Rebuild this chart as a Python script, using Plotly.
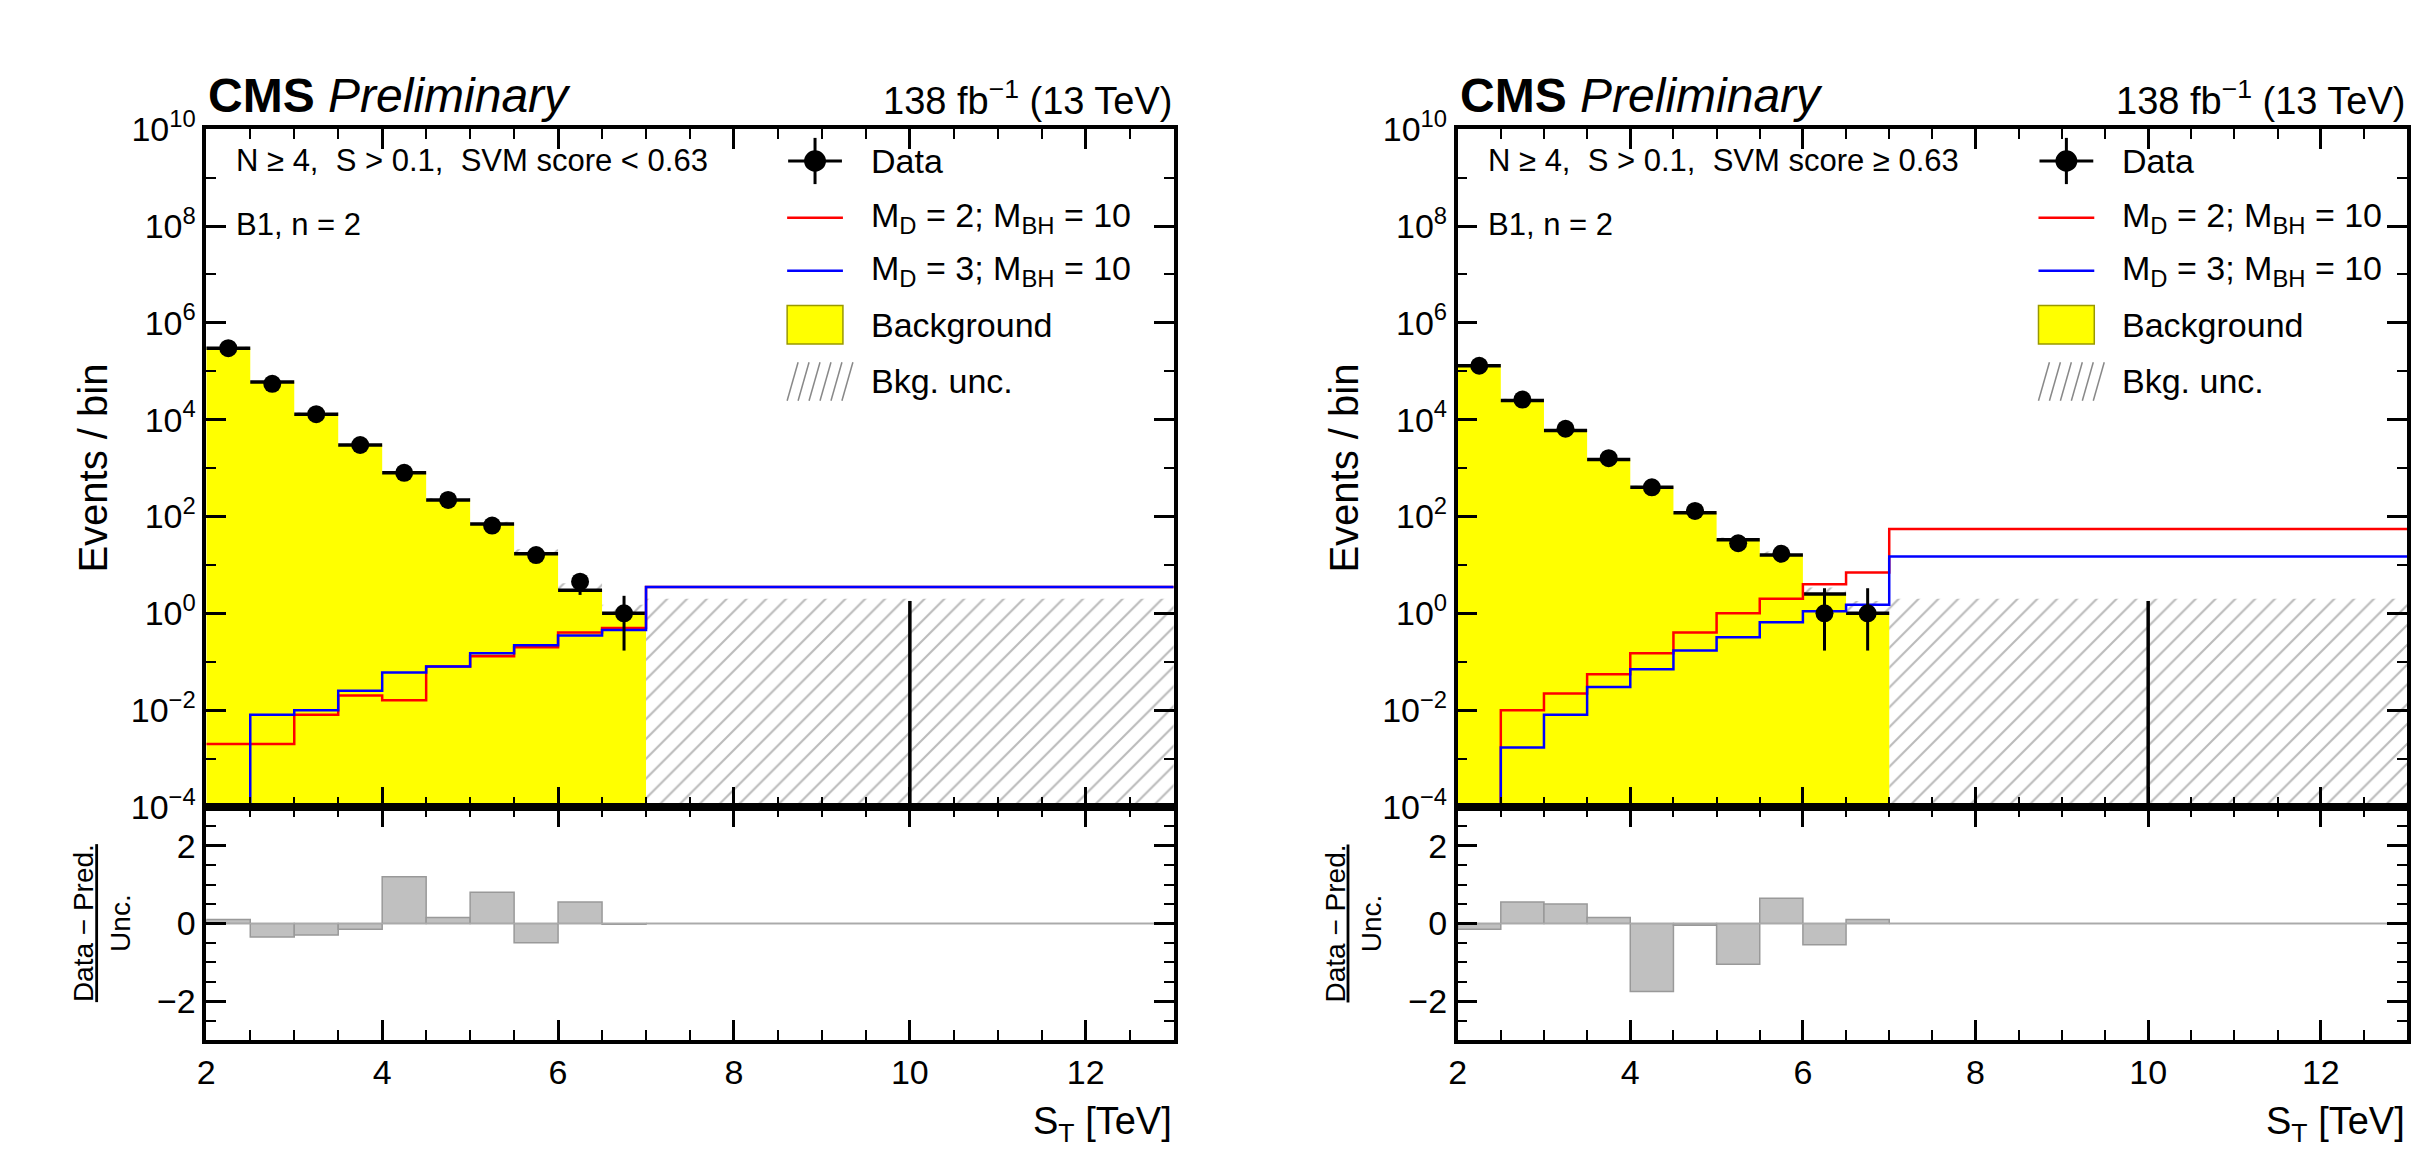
import plotly.graph_objects as go

W, H = 2430, 1152
edges = [2, 2.5, 3, 3.5, 4, 4.5, 5, 5.5, 6, 6.5, 7, 13]

# Left panel (SVM score < 0.63)
bkg_L = [3e5, 6e4, 1.3e4, 3e3, 8e2, 2.2e2, 70, 17, 3, 1.0, 0]
unc_lo_L = [2.8e5, 5.6e4, 1.2e4, 2.8e3, 7.4e2, 2.0e2, 62, 14, 2.0, 0.6, 1e-4]
unc_hi_L = [3.2e5, 6.4e4, 1.4e4, 3.2e3, 8.6e2, 2.4e2, 78, 21, 4.2, 1.5, 2.0]
data_L = [3e5, 5.5e4, 1.3e4, 3e3, 8e2, 2.2e2, 65, 16, 4.5, 1, 0]
data_errup_L = [550, 235, 115, 55, 28, 15, 8, 4, 2.1, 1.3, 1.8]
data_errdn_L = [550, 235, 115, 55, 28, 15, 8, 4, 2.1, 0.83, 0]
red_L = [2e-3, 2e-3, 8e-3, 2e-2, 1.6e-2, 0.08, 0.13, 0.2, 0.4, 0.5, 3.5]
blue_L = [1e-6, 8e-3, 1e-2, 2.5e-2, 0.06, 0.08, 0.15, 0.22, 0.35, 0.45, 3.5]
pull_L = [0.1, -0.35, -0.3, -0.15, 1.2, 0.15, 0.8, -0.5, 0.55, -0.02, 0]

# Right panel (SVM score >= 0.63)
bkg_R = [1.3e5, 2.5e4, 6e3, 1.5e3, 4e2, 1.2e2, 33, 16, 2.5, 1.0, 0]
unc_lo_R = [1.2e5, 2.3e4, 5.6e3, 1.4e3, 3.7e2, 1.1e2, 29, 13, 1.6, 0.3, 1e-4]
unc_hi_R = [1.4e5, 2.7e4, 6.4e3, 1.6e3, 4.3e2, 1.3e2, 37, 19, 3.4, 1.8, 2.0]
data_R = [1.3e5, 2.6e4, 6.5e3, 1.6e3, 4e2, 1.3e2, 28, 17, 1, 1, 0]
data_errup_R = [360, 160, 80, 40, 20, 11, 5.3, 4.1, 2.3, 2.3, 1.8]
data_errdn_R = [360, 160, 80, 40, 20, 11, 5.3, 4.1, 0.83, 0.83, 0]
red_R = [1e-6, 0.01, 0.022, 0.055, 0.15, 0.4, 1.0, 2.0, 4.0, 7.0, 55]
blue_R = [1e-6, 1.7e-3, 8e-3, 0.03, 0.07, 0.17, 0.32, 0.65, 1.1, 1.5, 15]
pull_R = [-0.15, 0.55, 0.5, 0.15, -1.75, -0.05, -1.05, 0.65, -0.55, 0.1, 0]

sel_L = "N ≥ 4,  S > 0.1,  SVM score < 0.63"
sel_R = "N ≥ 4,  S > 0.1,  SVM score ≥ 0.63"

FONT = "Liberation Sans, Arial, sans-serif"
fig = go.Figure()

def px(x): return x / W
def py(y): return 1 - y / H

panels = [
    dict(x0=190, x1=1161, bkg=bkg_L, lo=unc_lo_L, hi=unc_hi_L, data=data_L,
         eu=data_errup_L, ed=data_errdn_L, red=red_L, blue=blue_L, pull=pull_L, sel=sel_L),
    dict(x0=1446, x1=2399, bkg=bkg_R, lo=unc_lo_R, hi=unc_hi_R, data=data_R,
         eu=data_errup_R, ed=data_errdn_R, red=red_R, blue=blue_R, pull=pull_R, sel=sel_R),
]
main_top, main_bot, rat_bot = 101, 805, 1047

def step(vals):
    xs, ys = [], []
    for i, v in enumerate(vals):
        xs += [edges[i], edges[i + 1]]
        ys += [v, v]
    return xs, ys

ann, shapes = [], []
for k, p in enumerate(panels):
    n = "" if k == 0 else "3"
    r = "2" if k == 0 else "4"
    xa_main, ya_main, xa_rat, ya_rat = "x" + n, "y" + n, "x" + r, "y" + r
    centers = [(edges[i] + edges[i + 1]) / 2 for i in range(len(edges) - 1)]
    widths = [edges[i + 1] - edges[i] for i in range(len(edges) - 1)]
    nb = 10
    xs, ys = step(p["bkg"][:nb])
    fig.add_trace(go.Scatter(x=xs, y=ys, mode="lines", fill="tozeroy", fillcolor="#ffff00",
                             line=dict(width=0), xaxis=xa_main, yaxis=ya_main))
    fig.add_trace(go.Bar(x=centers, y=[h - l for h, l in zip(p["hi"], p["lo"])], base=p["lo"],
                         width=widths, marker=dict(color="rgba(0,0,0,0)", line=dict(width=0),
                         pattern=dict(shape="/", fgcolor="#777777", size=14, solidity=0.15)),
                         xaxis=xa_main, yaxis=ya_main))
    bx, by = [], []
    for i in range(nb):
        bx += [edges[i], edges[i + 1], None]
        by += [p["bkg"][i], p["bkg"][i], None]
    fig.add_trace(go.Scatter(x=bx, y=by, mode="lines", line=dict(color="black", width=3.5),
                             xaxis=xa_main, yaxis=ya_main))
    for vals, col in ((p["red"], "#ff0000"), (p["blue"], "#0000ff")):
        fig.add_trace(go.Scatter(x=edges, y=vals + [vals[-1]], mode="lines",
                                 line=dict(color=col, width=2.5, shape="hv"),
                                 xaxis=xa_main, yaxis=ya_main))
    dy = [d if d > 0 else 1e-4 for d in p["data"]]
    fig.add_trace(go.Scatter(x=centers[:nb], y=dy[:nb], mode="markers",
                             marker=dict(color="black", size=18),
                             error_y=dict(type="data", symmetric=False, array=p["eu"][:nb], arrayminus=p["ed"][:nb],
                                          color="black", thickness=3, width=0),
                             xaxis=xa_main, yaxis=ya_main))
    fig.add_trace(go.Scatter(x=[centers[nb]], y=[1e-4], mode="markers", marker=dict(size=0.1, color="black"),
                             error_y=dict(type="data", symmetric=False, array=[p["eu"][nb]], arrayminus=[0],
                                          color="black", thickness=3.5, width=0),
                             xaxis=xa_main, yaxis=ya_main))
    fig.add_trace(go.Bar(x=centers, y=p["pull"], width=widths,
                         marker=dict(color="#c0c0c0", line=dict(color="#999999", width=1.5)),
                         xaxis=xa_rat, yaxis=ya_rat))
    fig.add_trace(go.Scatter(x=[2, 13], y=[0, 0], mode="lines", line=dict(color="#aaaaaa", width=1.5),
                             xaxis=xa_rat, yaxis=ya_rat))

    dom = [px(p["x0"]), px(p["x1"])]
    common = dict(showline=True, linecolor="black", linewidth=3.5, mirror="ticks", ticks="inside",
                  ticklen=20, tickwidth=2.5, tickcolor="black", tickfont=dict(size=34, family=FONT, color="black"),
                  showgrid=False, zeroline=False)
    minor_x = dict(ticks="inside", ticklen=10, tickwidth=2, tickcolor="black", dtick=0.5)
    fig.update_layout(**{
        "xaxis" + n: dict(domain=dom, range=[2, 13], anchor="y" + n, tickvals=[2, 4, 6, 8, 10, 12],
                          showticklabels=False, minor=minor_x, **common),
        "yaxis" + n: dict(domain=[py(main_bot), py(main_top)], type="log", range=[-4, 10], anchor="x" + n,
                          tickvals=[10 ** e for e in range(-4, 11, 2)],
                          ticktext=["10<sup>%d</sup>" % e if e >= 0 else "10<sup>−%d</sup>" % -e for e in range(-4, 11, 2)],
                          minor=dict(ticks="inside", ticklen=10, tickwidth=2, tickcolor="black",
                                     tickvals=[10 ** e for e in range(-3, 10, 2)]),
                          title=dict(text="Events / bin", font=dict(size=40, family=FONT, color="black"), standoff=12),
                          **common),
        "xaxis" + r: dict(domain=dom, range=[2, 13], anchor="y" + r, tickvals=[2, 4, 6, 8, 10, 12],
                          minor=minor_x, **common),
        "yaxis" + r: dict(domain=[py(rat_bot), py(main_bot)], range=[-3, 3], anchor="x" + r,
                          tickvals=[-2, 0, 2], ticktext=["−2", "0", "2"],
                          minor=dict(ticks="inside", ticklen=10, tickwidth=2, tickcolor="black", dtick=0.5),
                          **common),
    })
    x0, x1 = p["x0"], p["x1"]
    ann += [
        dict(x=px(x0), y=py(96), xref="paper", yref="paper", xanchor="left", yanchor="bottom",
             text="<b>CMS</b> <i>Preliminary</i>", showarrow=False, font=dict(size=48, family=FONT, color="black")),
        dict(x=px(x1), y=py(96), xref="paper", yref="paper", xanchor="right", yanchor="bottom",
             text="138 fb<sup>−1</sup> (13 TeV)", showarrow=False, font=dict(size=38, family=FONT, color="black")),
        dict(x=px(x0 + 28), y=py(134), xref="paper", yref="paper", xanchor="left", yanchor="middle",
             text=p["sel"], showarrow=False, font=dict(size=31, family=FONT, color="black")),
        dict(x=px(x0 + 28), y=py(200), xref="paper", yref="paper", xanchor="left", yanchor="middle",
             text="B1, n = 2", showarrow=False, font=dict(size=31, family=FONT, color="black")),
        dict(x=px(x1), y=py(1134), xref="paper", yref="paper", xanchor="right", yanchor="middle",
             text="S<sub>T</sub> [TeV]", showarrow=False, font=dict(size=38, family=FONT, color="black")),
        dict(x=px(x0 - 105), y=py(926), xref="paper", yref="paper", xanchor="center", yanchor="middle",
             text="<u>Data − Pred.</u><br>Unc.", textangle=-90, showarrow=False,
             font=dict(size=28, family=FONT, color="black")),
    ]
    lx = x0 + 611
    tx = lx + 54
    rows = [134, 193, 248, 304, 363]
    labels = ["Data", "M<sub>D</sub> = 2; M<sub>BH</sub> = 10", "M<sub>D</sub> = 3; M<sub>BH</sub> = 10",
              "Background", "Bkg. unc."]
    for yy, lab in zip(rows, labels):
        ann.append(dict(x=px(tx), y=py(yy), xref="paper", yref="paper", xanchor="left", yanchor="middle",
                        text=lab, showarrow=False, font=dict(size=34, family=FONT, color="black")))
    shapes += [
        dict(type="line", xref="paper", yref="paper", x0=px(lx - 27), x1=px(lx + 27),
             y0=py(134), y1=py(134), line=dict(color="black", width=3)),
        dict(type="line", xref="paper", yref="paper", x0=px(lx), x1=px(lx),
             y0=py(110), y1=py(158), line=dict(color="black", width=3)),
        dict(type="circle", xref="paper", yref="paper", x0=px(lx - 10), x1=px(lx + 10),
             y0=py(124), y1=py(144), fillcolor="black", line=dict(color="black")),
        dict(type="line", xref="paper", yref="paper", x0=px(lx - 28), x1=px(lx + 28),
             y0=py(193), y1=py(193), line=dict(color="#ff0000", width=2.5)),
        dict(type="line", xref="paper", yref="paper", x0=px(lx - 28), x1=px(lx + 28),
             y0=py(248), y1=py(248), line=dict(color="#0000ff", width=2.5)),
        dict(type="rect", xref="paper", yref="paper", x0=px(lx - 28), x1=px(lx + 28),
             y0=py(324), y1=py(284), fillcolor="#ffff00", line=dict(color="#999900", width=1.5)),
    ]
    for j in range(6):
        sx = lx - 28 + j * 11
        shapes.append(dict(type="line", xref="paper", yref="paper", x0=px(sx), x1=px(sx + 11),
                           y0=py(383), y1=py(343), line=dict(color="#888888", width=1.5)))

fig.update_layout(width=W, height=H, margin=dict(l=0, r=0, t=0, b=0), plot_bgcolor="white",
                  paper_bgcolor="white", barmode="overlay", annotations=ann, shapes=shapes,
                  font=dict(family=FONT, color="black"), showlegend=False)
fig.write_html("out.html")
